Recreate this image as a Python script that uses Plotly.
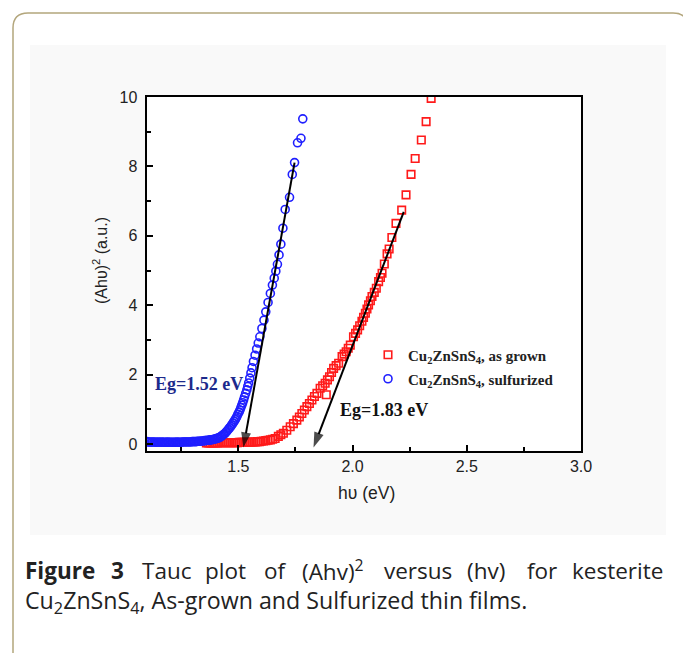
import plotly.graph_objects as go

# ---------------- data ----------------
blue_x = [1.100, 1.106, 1.112, 1.118, 1.124, 1.130, 1.136, 1.142, 1.148, 1.154,
          1.160, 1.166, 1.172, 1.178, 1.184, 1.190, 1.196, 1.202, 1.208, 1.214,
          1.220, 1.226, 1.232, 1.238, 1.244, 1.250, 1.256, 1.262, 1.268, 1.274,
          1.280, 1.286, 1.292, 1.298, 1.304, 1.310, 1.316, 1.322, 1.328, 1.334,
          1.340, 1.346, 1.352, 1.358, 1.364, 1.370, 1.376, 1.382, 1.388, 1.394,
          1.400, 1.405, 1.410, 1.415, 1.420, 1.425, 1.430, 1.436, 1.442, 1.447,
          1.452, 1.457, 1.462, 1.467, 1.471, 1.476, 1.481, 1.486, 1.490, 1.494,
          1.498, 1.503, 1.507, 1.511, 1.515, 1.519, 1.523, 1.527, 1.532, 1.537,
          1.541, 1.545, 1.550, 1.555, 1.560, 1.566, 1.573, 1.580, 1.587, 1.594,
          1.603, 1.612, 1.620, 1.630, 1.640, 1.649, 1.657, 1.664, 1.671, 1.678,
          1.686, 1.695, 1.705, 1.724, 1.736, 1.746, 1.759, 1.774, 1.782]
blue_y = [0.07, 0.06, 0.06, 0.05, 0.06, 0.06, 0.05, 0.05, 0.06, 0.05,
          0.05, 0.06, 0.05, 0.05, 0.05, 0.06, 0.05, 0.05, 0.05, 0.05,
          0.05, 0.05, 0.06, 0.05, 0.05, 0.05, 0.06, 0.06, 0.06, 0.06,
          0.06, 0.06, 0.06, 0.07, 0.07, 0.07, 0.07, 0.08, 0.08, 0.08,
          0.09, 0.09, 0.10, 0.10, 0.11, 0.11, 0.12, 0.12, 0.13, 0.14,
          0.15, 0.16, 0.17, 0.18, 0.20, 0.22, 0.25, 0.28, 0.31, 0.35,
          0.39, 0.43, 0.47, 0.51, 0.55, 0.60, 0.65, 0.70, 0.75, 0.80,
          0.86, 0.92, 0.98, 1.05, 1.12, 1.19, 1.27, 1.36, 1.46, 1.56,
          1.66, 1.76, 1.90, 2.05, 2.20, 2.38, 2.56, 2.74, 2.91, 3.09,
          3.33, 3.57, 3.81, 4.08, 4.34, 4.58, 4.78, 4.98, 5.18, 5.45,
          5.76, 6.22, 6.76, 7.11, 7.77, 8.11, 8.68, 8.81, 9.37]

red_x = [1.360, 1.368, 1.376, 1.384, 1.392, 1.400, 1.408, 1.416, 1.424, 1.432,
         1.440, 1.448, 1.456, 1.464, 1.472, 1.480, 1.488, 1.496, 1.504, 1.512,
         1.520, 1.528, 1.536, 1.544, 1.552, 1.560, 1.568, 1.576, 1.584, 1.592,
         1.600, 1.610, 1.620, 1.630, 1.640, 1.650, 1.661, 1.675, 1.686, 1.697,
         1.712, 1.727, 1.741, 1.756, 1.767, 1.778, 1.789, 1.800, 1.811, 1.822,
         1.833, 1.844, 1.885, 1.858, 1.869, 1.880, 1.890, 1.899, 1.908, 1.917,
         1.928, 1.939, 1.954, 1.963, 1.972, 1.981, 1.990, 2.004, 2.013, 2.022,
         2.031, 2.041, 2.048, 2.056, 2.063, 2.070, 2.078, 2.085, 2.095, 2.104,
         2.114, 2.122, 2.129, 2.139, 2.151, 2.160, 2.172, 2.190, 2.215, 2.234,
         2.256, 2.274, 2.301, 2.322, 2.344]
red_y = [0.03, 0.03, 0.03, 0.03, 0.03, 0.03, 0.03, 0.04, 0.04, 0.04,
         0.04, 0.04, 0.04, 0.04, 0.04, 0.04, 0.04, 0.04, 0.05, 0.05,
         0.05, 0.05, 0.05, 0.05, 0.05, 0.06, 0.06, 0.06, 0.07, 0.07,
         0.08, 0.09, 0.10, 0.11, 0.12, 0.14, 0.16, 0.22, 0.27, 0.31,
         0.40, 0.50, 0.59, 0.69, 0.78, 0.88, 0.98, 1.08, 1.17, 1.27,
         1.37, 1.46, 1.42, 1.61, 1.68, 1.75, 1.85, 1.94, 2.06, 2.18,
         2.26, 2.33, 2.52, 2.59, 2.66, 2.76, 2.85, 3.09, 3.19, 3.29,
         3.41, 3.54, 3.65, 3.77, 3.89, 4.01, 4.13, 4.25, 4.37, 4.49,
         4.68, 4.80, 4.92, 5.19, 5.48, 5.62, 5.95, 6.36, 6.74, 7.18,
         7.77, 8.23, 8.76, 9.29, 9.96]

# linear-fit arrows (start on the straight part, tip at the energy-axis intercept)
fit_blue_x = [1.746, 1.522]
fit_blue_y = [8.11, -0.10]
fit_red_x = [2.224, 1.829]
fit_red_y = [6.69, -0.10]

red_name = "Cu<sub>2</sub>ZnSnS<sub>4</sub>, as grown"
blue_name = "Cu<sub>2</sub>ZnSnS<sub>4</sub>, sulfurized"
eg_blue_text = "Eg=1.52 eV"
eg_red_text = "Eg=1.83 eV"

x_range = [1.1, 3.0]
y_range = [-0.2, 10]
x_ticks = [1.5, 2.0, 2.5, 3.0]
x_ticktext = ["1.5", "2.0", "2.5", "3.0"]
y_ticks = [0, 2, 4, 6, 8, 10]
y_ticktext = ["0", "2", "4", "6", "8", "10"]

# ---------------- layout helpers ----------------
W, H = 683, 653
PL, PR, PT, PB = 147, 581, 97, 451  # plot area in pixels


def px(xp):
    return (xp - PL) / (PR - PL)


def py(yp):
    return (PB - yp) / (PB - PT)


SERIF = "Liberation Serif"
SANS = "Liberation Sans"
CAP = "Open Sans"

fig = go.Figure()

fig.add_trace(go.Scatter(
    x=red_x, y=red_y, mode="markers", name=red_name, legend="legend",
    marker=dict(symbol="square-open", size=7.5, color="#ff1a1a",
                line=dict(width=1.6, color="#ff1a1a")),
))
fig.add_trace(go.Scatter(
    x=blue_x, y=blue_y, mode="markers", name=blue_name, legend="legend2",
    marker=dict(symbol="circle-open", size=8, color="#1f1fff",
                line=dict(width=1.6, color="#1f1fff")),
))

for fx, fy in [(fit_blue_x, fit_blue_y), (fit_red_x, fit_red_y)]:
    fig.add_trace(go.Scatter(
        x=fx, y=fy, mode="lines+markers", showlegend=False, hoverinfo="skip",
        line=dict(color="black", width=2),
        marker=dict(symbol=["circle", "arrow"], size=[1, 16], color="black",
                    angleref="previous", line=dict(width=0)),
        cliponaxis=False,
    ))

axis_common = dict(
    showline=True, linewidth=2, linecolor="black", mirror=True,
    showgrid=False, zeroline=False,
    ticks="inside", ticklen=6, tickwidth=1.5, tickcolor="black",
    tickfont=dict(family=SANS, size=16, color="#222222"),
)

fig.update_xaxes(range=x_range, tickmode="array", tickvals=x_ticks,
                 ticktext=x_ticktext,
                 minor=dict(tick0=1.0, dtick=0.25, ticks="inside", ticklen=4,
                            tickwidth=1.5, tickcolor="black"),
                 **axis_common)
fig.update_yaxes(range=y_range, tickmode="array", tickvals=y_ticks,
                 ticktext=[t + "\u00a0" for t in y_ticktext],
                 minor=dict(tick0=0, dtick=1, ticks="inside", ticklen=4,
                            tickwidth=1.5, tickcolor="black"),
                 **axis_common)

annotations = [
    dict(text="h\u03c5 (eV)", x=px(366), y=py(493), xref="paper", yref="paper",
         xanchor="center", yanchor="middle", showarrow=False,
         font=dict(family=SANS, size=17.5, color="#222222")),
    dict(text="(Ah\u03c5)<sup>2</sup> (a.u.)", x=px(100), y=py(261), xref="paper",
         yref="paper", xanchor="center", yanchor="middle", showarrow=False,
         textangle=-90, font=dict(family=SANS, size=16, color="#222222")),
    dict(text=eg_blue_text, x=px(153), y=py(384), xref="paper", yref="paper",
         xanchor="left", yanchor="middle", showarrow=False,
         font=dict(family=SERIF, size=18, color="#1c2a8c", weight="bold")),
    dict(text=eg_red_text, x=px(338), y=py(410), xref="paper", yref="paper",
         xanchor="left", yanchor="middle", showarrow=False,
         font=dict(family=SERIF, size=18, color="#111111", weight="bold")),
]

cap_font = dict(family=CAP, size=22.5, color="#222222")
cap_words = [
    ("<b>Figure</b>", 23, "left"), ("<b>3</b>", 109, "left"),
    ("Tauc", 140, "left"), ("plot", 203, "left"),
    ("of", 262, "left"), ("(Ahv)<sup>2</sup>", 300, "left"), ("versus", 382, "left"),
    ("(hv)", 465, "left"), ("for", 525, "left"), ("kesterite", 665, "right"),
]
for t, xp, anc in cap_words:
    annotations.append(dict(text=t, x=px(xp), y=py(570), xref="paper", yref="paper",
                            xanchor=anc, yanchor="middle", showarrow=False,
                            font=cap_font))
annotations.append(dict(
    text="Cu<sub>2</sub>ZnSnS<sub>4</sub>, As-grown and Sulfurized thin films.",
    x=px(23), y=py(601), xref="paper", yref="paper", xanchor="left",
    yanchor="middle", showarrow=False,
    font=dict(family=CAP, size=23.2, color="#222222")))

# rounded outer frame + light grey figure panel
x0, y0, x1, y1, r = px(13), py(13), px(688), py(668), 15
rx = r / (PR - PL)
ry = r / (PB - PT)
frame_path = (f"M{x0 + rx},{y0} L{x1 - rx},{y0} Q{x1},{y0} {x1},{y0 - ry} "
              f"L{x1},{y1 + ry} Q{x1},{y1} {x1 - rx},{y1} L{x0 + rx},{y1} "
              f"Q{x0},{y1} {x0},{y1 + ry} L{x0},{y0 - ry} Q{x0},{y0} {x0 + rx},{y0} Z")
shapes = [
    dict(type="rect", xref="paper", yref="paper", x0=px(30), x1=px(666),
         y0=py(45), y1=py(535), fillcolor="#f9f9f9", line=dict(width=0),
         layer="below"),
    dict(type="rect", xref="paper", yref="paper", x0=0, x1=1, y0=0, y1=1,
         fillcolor="white", line=dict(width=0), layer="below"),
    dict(type="path", xref="paper", yref="paper", path=frame_path,
         line=dict(color="#b3a67c", width=1.5), layer="above"),
]

legend_style = dict(xanchor="left", yanchor="middle",
                    bgcolor="rgba(0,0,0,0)", borderwidth=0,
                    font=dict(family=SERIF, size=15, color="#222222",
                              weight="bold"),
                    itemwidth=30)

fig.update_layout(
    width=W, height=H,
    margin=dict(l=PL, r=W - PR, t=PT, b=H - PB),
    paper_bgcolor="white", plot_bgcolor="rgba(0,0,0,0)",
    showlegend=True,
    legend=dict(x=px(368), y=py(355), **legend_style),
    legend2=dict(x=px(368), y=py(379), **legend_style),
    annotations=annotations,
    shapes=shapes,
)

fig.write_html("out.html",
               config={"displayModeBar": False},
               post_script="document.body.style.margin='0px';"
                           "document.body.style.overflow='hidden';")
